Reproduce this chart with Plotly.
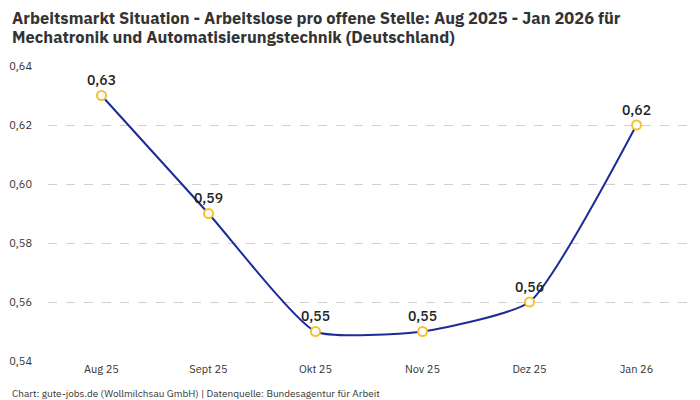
import plotly.graph_objects as go

months = ["Aug 25", "Sept 25", "Okt 25", "Nov 25", "Dez 25", "Jan 26"]
values = [0.63, 0.59, 0.55, 0.55, 0.56, 0.62]
y_ticks = [0.54, 0.56, 0.58, 0.60, 0.62, 0.64]

labels = [f"{v:.2f}".replace(".", ",") for v in values]
tick_text = [f"{v:.2f}".replace(".", ",") for v in y_ticks]

title_lines = [
    "Arbeitsmarkt Situation - Arbeitslose pro offene Stelle: Aug 2025 - Jan 2026 für",
    "Mechatronik und Automatisierungstechnik (Deutschland)",
]
footer = "Chart: gute-jobs.de (Wollmilchsau GmbH) | Datenquelle: Bundesagentur für Arbeit"

FONT = "IBM Plex Sans, Noto Sans, sans-serif"

fig = go.Figure()
fig.add_trace(go.Scatter(
    x=months, y=values,
    mode="lines+markers+text",
    line=dict(color="#1b2c94", width=2, shape="spline", smoothing=0.5),
    marker=dict(size=9, color="white", line=dict(color="#f5c22b", width=2)),
    text=labels, textposition="top center",
    textfont=dict(size=14, color="#222222", family=FONT, weight=500),
    cliponaxis=False,
    hoverinfo="skip",
))

PLOT_H = 295
def py(fig_y):
    # convert a figure pixel row to paper y
    return (353 - fig_y) / PLOT_H

annotations = []
for i, line in enumerate(title_lines):
    annotations.append(dict(
        text=f"<b>{line}</b>",
        xref="paper", yref="paper", x=-0.0592, y=py(10.5 + 18.5 * i), xanchor="left", yanchor="middle",
        align="left", showarrow=False,
        font=dict(size=16.5, color="#333333", family=FONT),
    ))
annotations.append(dict(
    text=footer,
    xref="paper", yref="paper", x=-0.0592, y=py(385), xanchor="left", yanchor="middle",
    showarrow=False, font=dict(size=10, color="#333333", family=FONT),
))

fig.update_layout(
    width=700, height=400,
    margin=dict(l=40, r=18, t=58, b=47),
    paper_bgcolor="white", plot_bgcolor="white",
    font=dict(family=FONT, color="#333333"),
    showlegend=False,
    xaxis=dict(
        type="category", range=[-0.5, 5.5], automargin=False,
        showgrid=False, zeroline=False, showline=False, ticks="",
        tickfont=dict(size=11, color="#333333"),
    ),
    yaxis=dict(
        range=[0.54, 0.64], tickvals=y_ticks, ticktext=tick_text, automargin=False,
        showgrid=True, gridcolor="#d0d0d0", griddash="dash", gridwidth=1,
        zeroline=False, showline=False, ticks="",
        tickfont=dict(size=11, color="#333333"),
        ticklabelstandoff=15,
    ),
    annotations=annotations,
)

fig.write_html("out.html")
